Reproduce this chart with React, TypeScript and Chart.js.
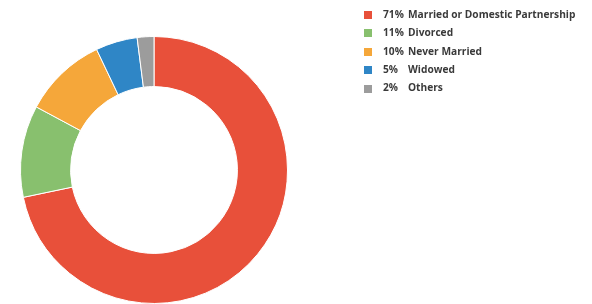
import React, { useEffect, useRef } from "react";
import { Chart, registerables } from "chart.js";

Chart.register(...registerables);

const categories = ["Married or Domestic Partnership", "Divorced", "Never Married", "Widowed", "Others"];
const percents = [71, 11, 10, 5, 2];
const colors = ["#E8503A", "#88C06E", "#F5A73A", "#2F86C6", "#9C9C9C"];

const legendPlugin = {
  id: "sideLegend",
  afterDraw(chart: any) {
    const ctx = chart.ctx as CanvasRenderingContext2D;
    ctx.save();
    const rowH = 18.4;
    const top = 15;
    ctx.font = "bold 10.2px 'Open Sans', sans-serif";
    ctx.textBaseline = "middle";
    categories.forEach((cat, i) => {
      const cy = top + i * rowH;
      ctx.fillStyle = colors[i];
      ctx.fillRect(364, Math.round(cy - 4), 8, 8);
      ctx.fillStyle = "#3a3a3a";
      ctx.textAlign = "left";
      ctx.fillText(percents[i] + "%", 383, cy);
      ctx.fillText(cat, 408, cy);
    });
    ctx.restore();
  },
};

export default function App() {
  const ref = useRef<HTMLCanvasElement | null>(null);
  useEffect(() => {
    document.body.style.margin = "0";
    const chart = new Chart(ref.current!, {
      type: "doughnut",
      data: {
        labels: categories,
        datasets: [
          {
            data: percents,
            backgroundColor: colors,
            borderColor: "#ffffff",
            borderWidth: 1,
          },
        ],
      },
      options: {
        animation: false,
        responsive: false,
        maintainAspectRatio: false,
        cutout: "62.5%",
        layout: { padding: { left: 20, right: 304, top: 36, bottom: 0 } },
        plugins: {
          legend: { display: false },
          tooltip: { enabled: false },
        },
      },
      plugins: [legendPlugin],
    });
    return () => chart.destroy();
  }, []);
  return (
    <div style={{ width: 592, height: 304, background: "#fff" }}>
      <canvas ref={ref} width={592} height={304} />
    </div>
  );
}
